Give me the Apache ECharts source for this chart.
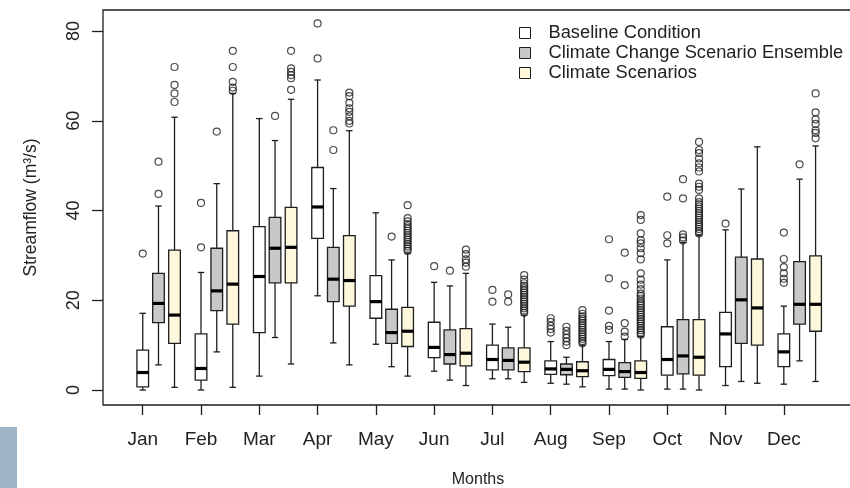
<!DOCTYPE html>
<html>
<head>
<meta charset="utf-8">
<script src="https://cdn.jsdelivr.net/npm/echarts@6/dist/echarts.min.js"></script>
<style>
  html, body { margin: 0; padding: 0; background: #fff; overflow: hidden; }
  #main { width: 850px; height: 488px; }
</style>
</head>
<body>
<div id="main"></div>
<script>
// months / series names
var months = ['Jan', 'Feb', 'Mar', 'Apr', 'May', 'Jun', 'Jul', 'Aug', 'Sep', 'Oct', 'Nov', 'Dec'];
var seriesNames = ['Baseline Condition', 'Climate Change Scenario Ensemble', 'Climate Scenarios'];
var yTicks = [0, 20, 40, 60, 80];

// box stats per month: [min, Q1, median, Q3, max]
var baselineStats = [
  [0.0, 0.7, 3.9, 8.9, 17.1], [0.0, 2.2, 4.8, 12.5, 26.2], [3.1, 12.8, 25.3, 36.4, 60.5],
  [21.0, 33.8, 40.8, 49.6, 69.1], [10.2, 16.0, 19.7, 25.5, 39.5], [4.2, 7.2, 9.5, 15.1, 24.0],
  [2.5, 4.5, 6.8, 10.0, 14.7], [1.5, 3.5, 4.7, 6.5, 10.8], [0.2, 3.2, 4.6, 6.8, 10.8],
  [0.2, 3.3, 6.8, 14.1, 29.0], [1.0, 5.2, 12.5, 17.3, 35.7], [1.3, 5.2, 8.5, 12.5, 18.7]
];
var ensembleStats = [
  [5.6, 15.0, 19.3, 26.0, 41.0], [8.5, 17.7, 22.1, 31.6, 46.0], [11.7, 23.9, 31.6, 38.5, 55.6],
  [10.5, 19.7, 24.7, 31.8, 44.9], [5.2, 10.4, 12.8, 18.0, 29.0], [2.2, 5.8, 7.9, 13.4, 23.2],
  [2.5, 4.5, 6.6, 9.4, 14.0], [1.3, 3.4, 4.6, 5.8, 7.3], [0.2, 2.8, 4.1, 6.1, 11.3],
  [0.2, 3.6, 7.6, 15.7, 32.9], [1.9, 10.4, 20.1, 29.6, 44.8], [6.5, 14.7, 19.1, 28.6, 47.0]
];
var scenarioStats = [
  [0.6, 10.4, 16.7, 31.2, 60.8], [0.6, 14.7, 23.6, 35.5, 66.1], [5.8, 23.9, 31.8, 40.7, 64.8],
  [5.6, 18.7, 24.4, 34.4, 57.8], [3.1, 9.7, 13.1, 18.4, 30.5], [1.0, 5.4, 8.2, 13.7, 26.0],
  [1.7, 4.1, 6.2, 9.4, 16.7], [0.7, 3.0, 4.3, 6.3, 10.0], [0.0, 2.6, 3.9, 6.5, 11.9],
  [0.0, 3.3, 7.3, 15.7, 34.5], [1.5, 10.0, 18.3, 29.2, 54.2], [1.9, 13.1, 19.1, 29.9, 54.4]
];

// outliers per month
var baselineOut = [
  [30.4], [31.8, 41.7], [], [73.9, 81.7], [], [27.6],
  [19.7, 22.3], [12.8, 13.6, 14.3, 15.2, 16.0], [13.4, 14.3, 17.7, 24.9, 33.6],
  [32.7, 34.5, 43.1], [37.1], [23.9, 24.8, 26.0, 27.4, 29.2, 35.1]
];
var ensembleOut = [
  [43.7, 50.9], [57.6], [61.1], [53.5, 57.9], [34.2], [26.6],
  [19.7, 21.3], [10.0, 10.8, 11.6, 12.4, 13.2, 14.1], [11.9, 13.0, 14.9, 23.4, 30.6],
  [33.3, 34.0, 34.7, 42.7, 47.0], [], [50.3]
];
var scenarioOut = [
  [64.2, 66.1, 68.0, 72.0],
  [66.7, 67.4, 68.7, 72.0, 75.6],
  [66.9, 69.5, 70.2, 70.9, 71.7, 75.6],
  [59.4, 60.0, 61.0, 62.0, 62.8, 64.0, 65.5, 66.3],
  [31.0, 31.5, 32.0, 32.5, 33.0, 33.5, 34.0, 34.5, 35.0, 35.5, 36.0, 36.5, 37.0, 37.6, 38.3, 41.2],
  [27.5, 28.4, 29.1, 30.3, 31.3],
  [17.2, 17.7, 18.2, 18.7, 19.2, 19.7, 20.2, 20.7, 21.2, 21.7, 22.2, 22.7, 23.2, 23.8, 24.6, 25.6],
  [10.4, 10.9, 11.4, 11.9, 12.4, 12.9, 13.4, 13.9, 14.4, 14.9, 15.4, 15.9, 16.4, 17.0, 17.8],
  [12.3, 12.8, 13.3, 13.8, 14.3, 14.8, 15.3, 15.8, 16.3, 16.8, 17.3, 17.8, 18.3, 18.8, 19.3, 19.8,
   20.4, 21.0, 21.5, 22.5, 23.5, 24.6, 26.0, 29.1, 30.5, 31.6, 32.7, 33.4, 34.9, 37.9, 39.0],
  [34.9, 35.4, 35.9, 36.4, 36.9, 37.4, 37.9, 38.4, 38.9, 39.4, 39.9, 40.4, 40.9, 41.4, 41.9, 42.7,
   44.6, 45.3, 46.0, 48.7, 49.6, 50.5, 51.6, 52.8, 53.5, 55.3],
  [],
  [56.1, 57.3, 57.9, 59.3, 60.3, 61.9, 66.1]
];

var fills = ['#ffffff', '#c8c8c8', '#fdf7dc'];
var offsets = [0, 0.27, 0.545];   // position of each box inside a month, in month units
var BOX_W = 0.2;
var INK = '#1e1e1e';

var allStats = [baselineStats, ensembleStats, scenarioStats];
var allOut = [baselineOut, ensembleOut, scenarioOut];

function renderBox(params, api) {
  var x = api.value(0);
  var pMin = api.coord([x, api.value(1)]);
  var pQ1 = api.coord([x, api.value(2)]);
  var pMed = api.coord([x, api.value(3)]);
  var pQ3 = api.coord([x, api.value(4)]);
  var pMax = api.coord([x, api.value(5)]);
  var half = api.size([BOX_W, 0])[0] / 2;
  var cap = half * 0.55;
  var cx = pMin[0];
  var ln = { stroke: INK, lineWidth: 1.3 };
  return {
    type: 'group',
    children: [
      { type: 'line', shape: { x1: cx, y1: pMin[1], x2: cx, y2: pQ1[1] }, style: ln },
      { type: 'line', shape: { x1: cx, y1: pQ3[1], x2: cx, y2: pMax[1] }, style: ln },
      { type: 'line', shape: { x1: cx - cap, y1: pMin[1], x2: cx + cap, y2: pMin[1] }, style: ln },
      { type: 'line', shape: { x1: cx - cap, y1: pMax[1], x2: cx + cap, y2: pMax[1] }, style: ln },
      { type: 'rect', shape: { x: cx - half, y: pQ3[1], width: half * 2, height: pQ1[1] - pQ3[1] },
        style: { fill: api.visual('color'), stroke: INK, lineWidth: 1.3 } },
      { type: 'line', shape: { x1: cx - half, y1: pMed[1], x2: cx + half, y2: pMed[1] },
        style: { stroke: '#000', lineWidth: 3.2 } }
    ]
  };
}

var series = [];
allStats.forEach(function (stats, k) {
  series.push({
    name: seriesNames[k],
    type: 'custom',
    renderItem: renderBox,
    itemStyle: { color: fills[k] },
    encode: { x: 0, y: [1, 2, 3, 4, 5] },
    data: stats.map(function (s, i) { return [i + 1 + offsets[k]].concat(s); }),
    z: 2
  });
});
allOut.forEach(function (outs, k) {
  var pts = [];
  outs.forEach(function (vals, i) {
    vals.forEach(function (v) { pts.push([i + 1 + offsets[k], v]); });
  });
  series.push({
    name: seriesNames[k] + ' outliers',
    type: 'scatter',
    symbol: 'circle',
    symbolSize: 7,
    itemStyle: { color: 'rgba(255,255,255,0)', borderColor: INK, borderWidth: 1.2 },
    data: pts,
    z: 3
  });
});

var myChart = echarts.init(document.getElementById('main'));
var option = {
  animation: false,
  textStyle: { fontFamily: 'Liberation Sans, Arial, sans-serif' },
  // frame runs past the right edge of the picture, as in the original
  grid: {
    left: 103, right: -3, top: 10, bottom: 83,
    outerBoundsMode: 'none',
    show: true, borderColor: INK, borderWidth: 1.3, backgroundColor: 'transparent'
  },
  legend: {
    orient: 'vertical',
    left: 519,
    top: 24,
    padding: 0,
    itemGap: 2,
    itemWidth: 11,
    itemHeight: 11,
    icon: 'rect',
    selectedMode: false,
    textStyle: { fontSize: 18.3, color: '#222', padding: [0, 0, 0, 13] },
    data: seriesNames.map(function (n, k) {
      return { name: n, itemStyle: { color: fills[k], borderColor: INK, borderWidth: 1 } };
    })
  },
  xAxis: {
    type: 'value',
    min: 0.318,
    max: 13.187,
    splitLine: { show: false },
    axisLine: { show: false, onZero: false },
    axisTick: { show: true, length: 10, customValues: [1, 2, 3, 4, 5, 6, 7, 8, 9, 10, 11, 12], lineStyle: { color: INK, width: 1.3 } },
    axisLabel: {
      customValues: [1, 2, 3, 4, 5, 6, 7, 8, 9, 10, 11, 12],
      formatter: function (v) { return months[Math.round(v) - 1]; },
      margin: 25, fontSize: 19, color: '#222'
    },
    name: 'Months',
    nameLocation: 'middle',
    nameGap: 67,
    nameTextStyle: { fontSize: 16, color: '#222' }
  },
  yAxis: {
    type: 'value',
    min: -3.34,
    max: 84.7,
    splitLine: { show: false },
    axisLine: { show: false, onZero: false },
    axisTick: { show: true, length: 11, customValues: yTicks, lineStyle: { color: INK, width: 1.3 } },
    axisLabel: { customValues: yTicks, rotate: 90, margin: 20, fontSize: 18, color: '#222' },
    name: 'Streamflow (m³/s)',
    nameLocation: 'middle',
    nameRotate: 90,
    nameGap: 63,
    nameTextStyle: { fontSize: 17.5, color: '#222' }
  },
  graphic: [
    { type: 'rect', left: 0, top: 427, shape: { width: 17, height: 61 }, style: { fill: '#a0b4c8' } }
  ],
  series: series
};
myChart.setOption(option);
</script>
</body>
</html>
